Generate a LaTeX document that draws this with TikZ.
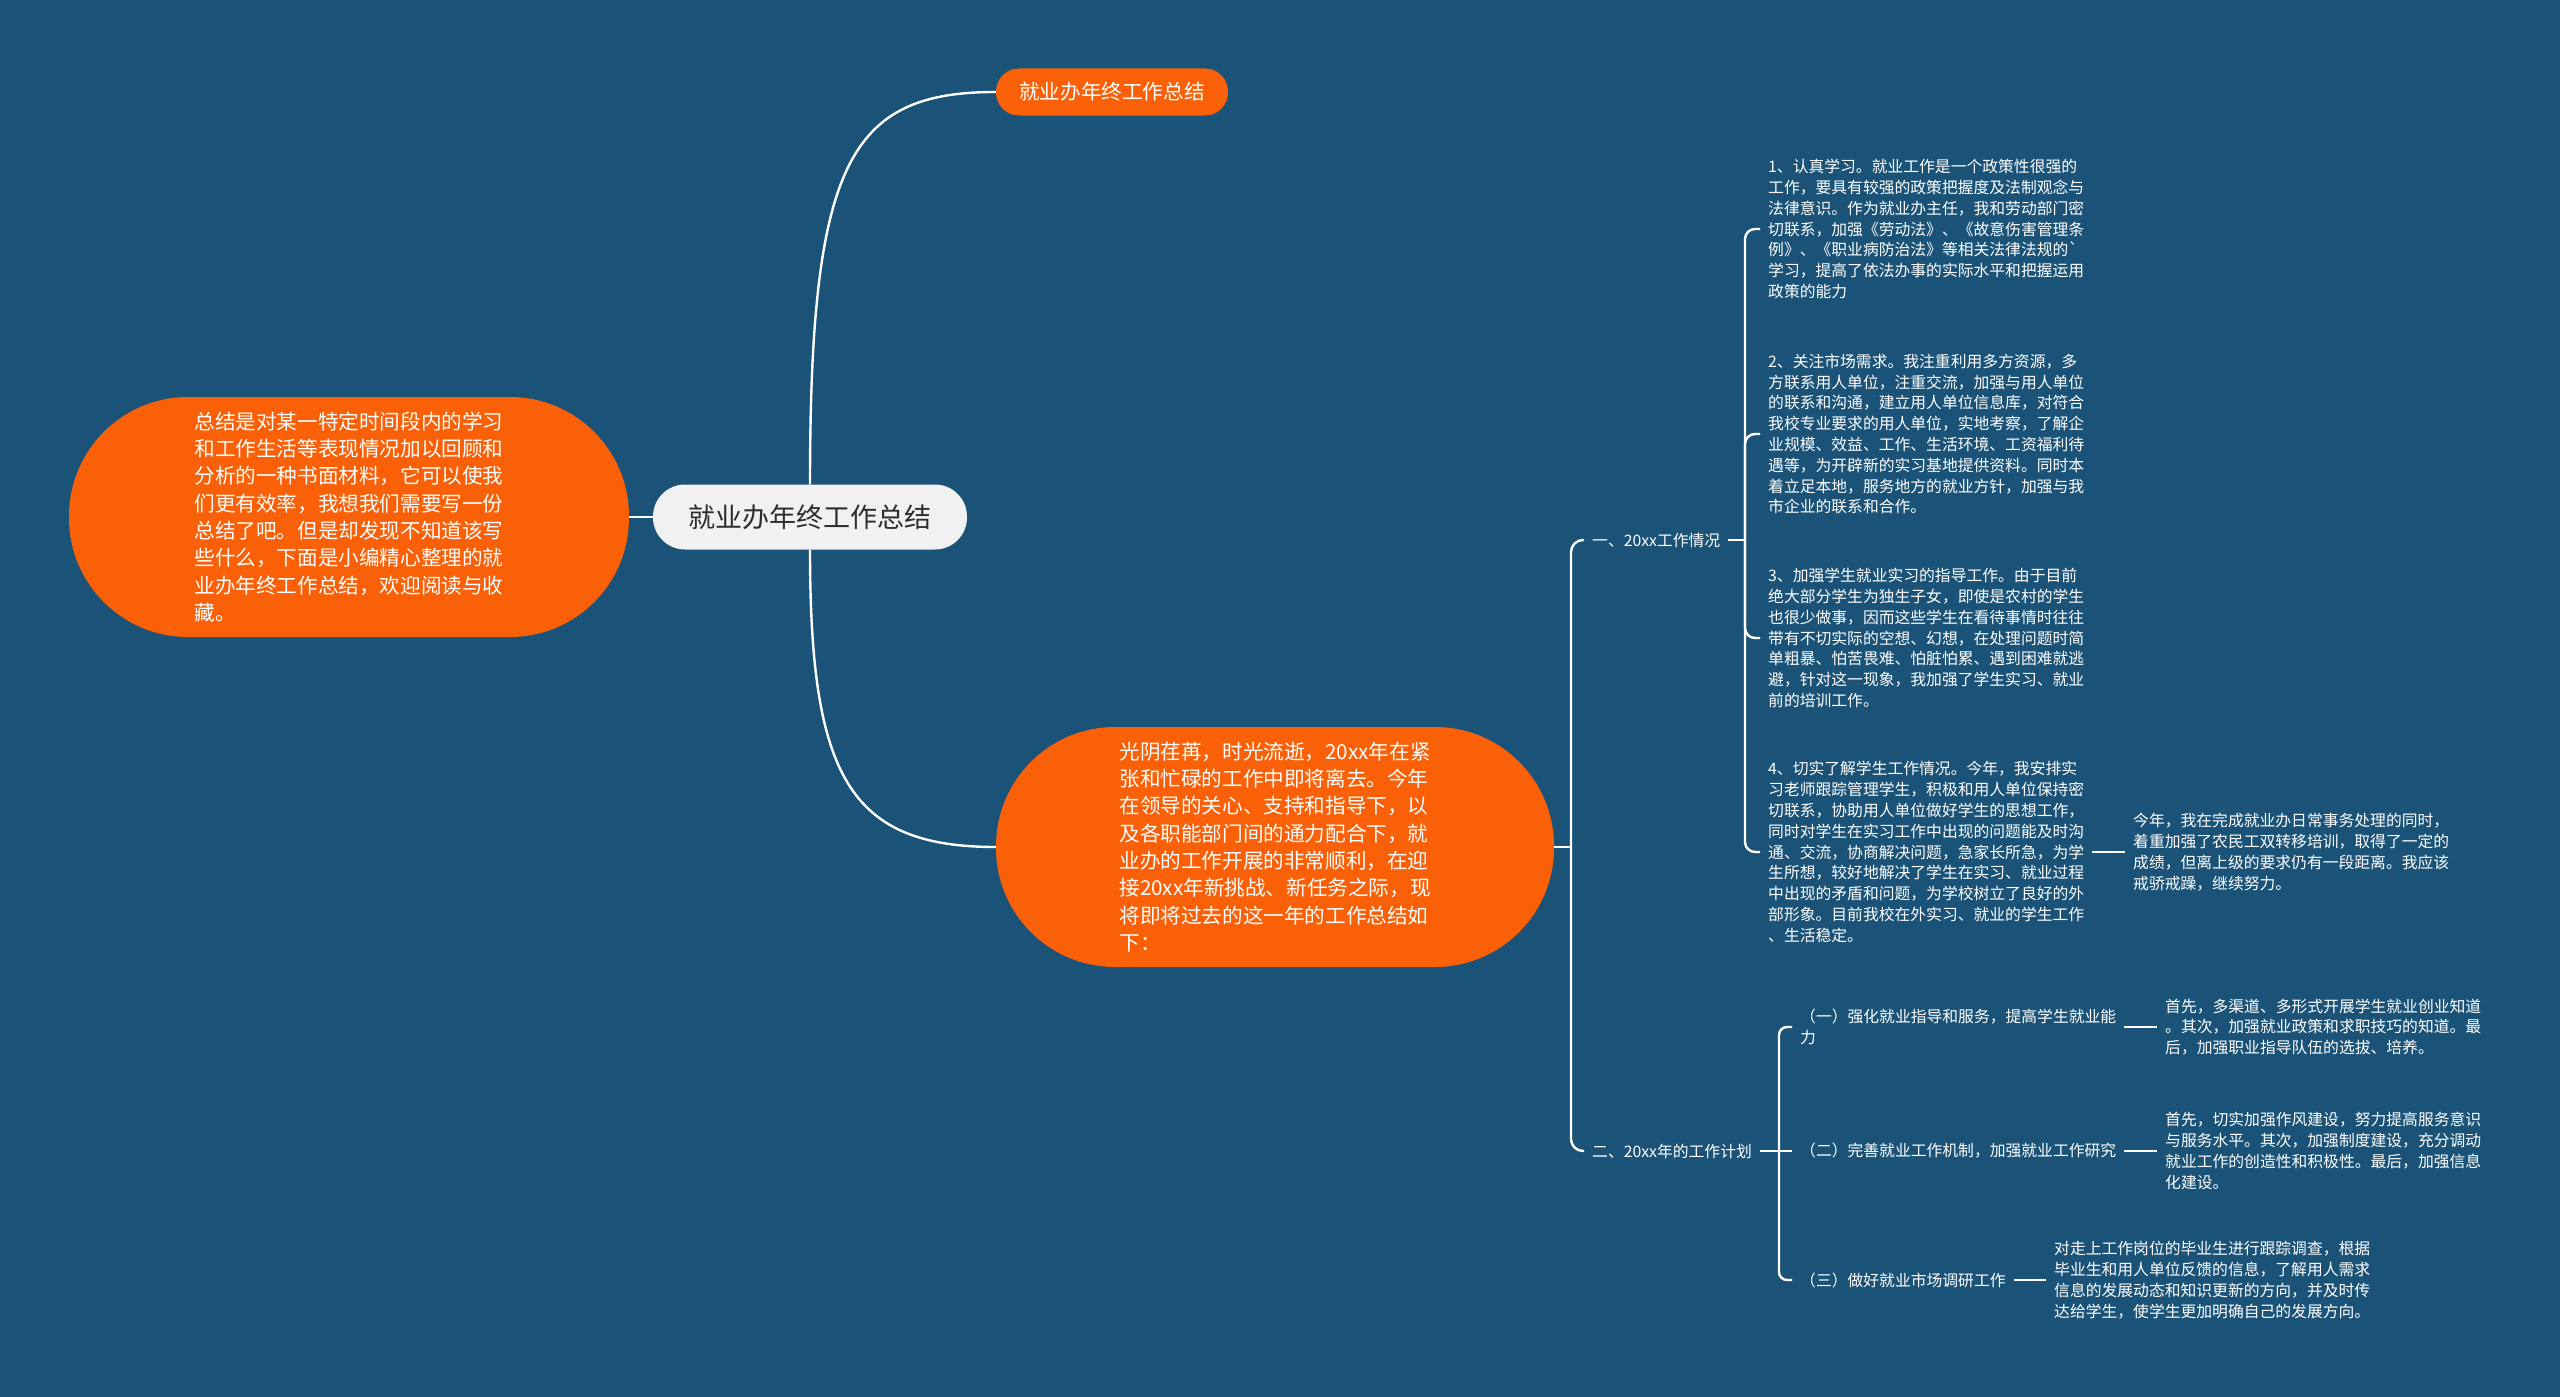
\documentclass[tikz,border=0pt]{standalone}
\usepackage{fontspec}
\setmainfont{Noto Sans CJK SC}
\usetikzlibrary{calc}
\definecolor{bg}{RGB}{26,83,119}
\definecolor{org}{RGB}{249,96,8}
\definecolor{ctrfill}{RGB}{241,241,241}
\definecolor{ctrtext}{RGB}{45,45,45}
\begin{document}
\begin{tikzpicture}[x=1pt,y=-1pt,
  conn/.style={draw=white, line width=2.4pt},
  pill/.style={fill=org, text=white, inner sep=0pt, align=left},
  txt/.style={text=white, font=\fontsize{15.8pt}{20.8pt}\selectfont, align=left, anchor=west, inner xsep=8pt, inner ysep=2pt},
  bigfont/.style={font=\fontsize{20.6pt}{27.3pt}\selectfont}
]
\fill[bg] (0,0) rectangle (2560,1397);
\useasboundingbox (0,0) rectangle (2560,1397);

% central node
\node[fill=ctrfill, text=ctrtext, rounded corners=32pt, minimum width=314pt, minimum height=65pt, inner sep=0pt, font=\fontsize{27pt}{30pt}\selectfont] (root) at (810,517) {就业办年终工作总结};

% left intro
\node[pill, bigfont, rounded corners=119pt, minimum width=560pt, minimum height=240pt] (intro) at (349,517) {总结是对某一特定时间段内的学习\\和工作生活等表现情况加以回顾和\\分析的一种书面材料，它可以使我\\们更有效率，我想我们需要写一份\\总结了吧。但是却发现不知道该写\\些什么，下面是小编精心整理的就\\业办年终工作总结，欢迎阅读与收\\藏。};

% top
\node[pill, bigfont, rounded corners=23pt, minimum width=232pt, minimum height=47pt] (top) at (1112,92) {就业办年终工作总结};

% middle summary
\node[pill, bigfont, rounded corners=119pt, minimum width=558pt, minimum height=240pt] (sum) at (1275,847) {光阴荏苒，时光流逝，20xx年在紧\\张和忙碌的工作中即将离去。今年\\在领导的关心、支持和指导下，以\\及各职能部门间的通力配合下，就\\业办的工作开展的非常顺利，在迎\\接20xx年新挑战、新任务之际，现\\将即将过去的这一年的工作总结如\\下：};

% labels
\node[txt] (l1) at (1584,540) {一、20xx工作情况};
\node[txt] (l2) at (1584,1151) {二、20xx年的工作计划};

% blocks
\node[txt] (b1) at (1760,229) {1、认真学习。就业工作是一个政策性很强的\\工作，要具有较强的政策把握度及法制观念与\\法律意识。作为就业办主任，我和劳动部门密\\切联系，加强《劳动法》、《故意伤害管理条\\例》、《职业病防治法》等相关法律法规的\textasciigrave\\学习，提高了依法办事的实际水平和把握运用\\政策的能力};
\node[txt] (b2) at (1760,434) {2、关注市场需求。我注重利用多方资源，多\\方联系用人单位，注重交流，加强与用人单位\\的联系和沟通，建立用人单位信息库，对符合\\我校专业要求的用人单位，实地考察，了解企\\业规模、效益、工作、生活环境、工资福利待\\遇等，为开辟新的实习基地提供资料。同时本\\着立足本地，服务地方的就业方针，加强与我\\市企业的联系和合作。};
\node[txt] (b3) at (1760,638) {3、加强学生就业实习的指导工作。由于目前\\绝大部分学生为独生子女，即使是农村的学生\\也很少做事，因而这些学生在看待事情时往往\\带有不切实际的空想、幻想，在处理问题时简\\单粗暴、怕苦畏难、怕脏怕累、遇到困难就逃\\避，针对这一现象，我加强了学生实习、就业\\前的培训工作。};
\node[txt] (b4) at (1760,852) {4、切实了解学生工作情况。今年，我安排实\\习老师跟踪管理学生，积极和用人单位保持密\\切联系，协助用人单位做好学生的思想工作，\\同时对学生在实习工作中出现的问题能及时沟\\通、交流，协商解决问题，急家长所急，为学\\生所想，较好地解决了学生在实习、就业过程\\中出现的矛盾和问题，为学校树立了良好的外\\部形象。目前我校在外实习、就业的学生工作\\、生活稳定。};
\node[txt] (b4s) at (2125,852) {今年，我在完成就业办日常事务处理的同时，\\着重加强了农民工双转移培训，取得了一定的\\成绩，但离上级的要求仍有一段距离。我应该\\戒骄戒躁，继续努力。};

% plan items
\node[txt] (s1) at (1792,1027) {（一）强化就业指导和服务，提高学生就业能\\力};
\node[txt] (s2) at (1792,1151) {（二）完善就业工作机制，加强就业工作研究};
\node[txt] (s3) at (1792,1280) {（三）做好就业市场调研工作};
\node[txt] (d1) at (2157,1027) {首先，多渠道、多形式开展学生就业创业知道\\。其次，加强就业政策和求职技巧的知道。最\\后，加强职业指导队伍的选拔、培养。};
\node[txt] (d2) at (2157,1151) {首先，切实加强作风建设，努力提高服务意识\\与服务水平。其次，加强制度建设，充分调动\\就业工作的创造性和积极性。最后，加强信息\\化建设。};
\node[txt] (d3) at (2046,1280) {对走上工作岗位的毕业生进行跟踪调查，根据\\毕业生和用人单位反馈的信息，了解用人需求\\信息的发展动态和知识更新的方向，并及时传\\达给学生，使学生更加明确自己的发展方向。};

% junctions
\coordinate (J0) at (1571,847);
\coordinate (J1) at (1745,540);
\coordinate (J2) at (1779,1151);

% connectors
\draw[conn] (root.west) -- (intro.east);
\draw[conn] (root.north) .. controls (810,163) and (849,92) .. (top.west);
\draw[conn] (root.south) .. controls (810,776) and (849,847) .. (sum.west);

\draw[conn] (sum.east) -- (J0);
\draw[conn, rounded corners=12pt] (J0) |- (l1.west);
\draw[conn, rounded corners=12pt] (J0) |- (l2.west);

\draw[conn] (l1.east) -- (J1);
\draw[conn, rounded corners=10pt] (J1) |- (b1.west);
\draw[conn, rounded corners=10pt] (J1) |- (b2.west);
\draw[conn, rounded corners=10pt] (J1) |- (b3.west);
\draw[conn, rounded corners=10pt] (J1) |- (b4.west);
\draw[conn] (b4.east) -- (b4s.west);

\draw[conn] (l2.east) -- (J2);
\draw[conn, rounded corners=8pt] (J2) |- (s1.west);
\draw[conn] (J2) -- (s2.west);
\draw[conn, rounded corners=8pt] (J2) |- (s3.west);
\draw[conn] (s1.east) -- (d1.west);
\draw[conn] (s2.east) -- (d2.west);
\draw[conn] (s3.east) -- (d3.west);
\end{tikzpicture}
\end{document}
